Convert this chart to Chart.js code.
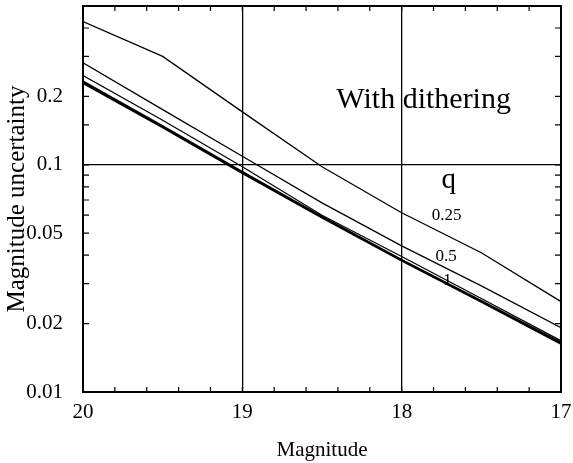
<!DOCTYPE html>
<html>
<head>
<meta charset="utf-8">
<script src="https://cdn.jsdelivr.net/npm/chart.js@4.4.0/dist/chart.umd.min.js"></script>
<style>
  html, body { margin: 0; padding: 0; background: #fff; }
  #wrap { width: 573px; height: 463px; }
</style>
</head>
<body>
<div id="wrap"><canvas id="myChart"></canvas></div>
<script>
// magnitudes along x (axis runs 20 -> 17)
var mags = [20, 19.5, 19, 18.5, 18, 17.5, 17];

// magnitude uncertainty for each q curve
var errQ025 = [0.427, 0.300, 0.171, 0.098, 0.0615, 0.041, 0.025];
var errQ05  = [0.281, 0.175, 0.109, 0.068, 0.044, 0.0293, 0.0192];
var errQ1   = [0.247, 0.157, 0.098, 0.060, 0.0395, 0.0258, 0.0168];
var errQ2   = [0.233, 0.148, 0.093, 0.0592, 0.0382, 0.0252, 0.0165];
var errQ4   = [0.229, 0.146, 0.092, 0.0586, 0.0379, 0.0249, 0.0163];

var xLabels = [20, 19, 18, 17];
var yLabels = [0.01, 0.02, 0.05, 0.1, 0.2];
var xGrid = [19, 18];
var yGrid = [0.1];

var serif = '"Liberation Serif", "Times New Roman", serif';

function pts(ys) {
  return mags.map(function (m, i) { return { x: m, y: ys[i] }; });
}
function near(list, v) {
  return list.some(function (l) { return Math.abs(l - v) / Math.abs(l) < 1e-6; });
}
function line(ys, w) {
  return { data: pts(ys), borderColor: '#000', borderWidth: w, pointRadius: 0, tension: 0, fill: false };
}

// annotations in data coordinates
var notes = [
  { x: 17.862, y: 0.193, text: 'With dithering', size: 30 },
  { x: 17.705, y: 0.085, text: 'q', size: 29 },
  { x: 17.718, y: 0.0596, text: '0.25', size: 17 },
  { x: 17.721, y: 0.0395, text: '0.5', size: 17 },
  { x: 17.712, y: 0.0308, text: '1', size: 17 }
];

var framePlugin = {
  id: 'frame',
  afterDraw: function (chart) {
    var ctx = chart.ctx, a = chart.chartArea;
    var xs = chart.scales.x, ys = chart.scales.y;
    ctx.save();
    ctx.strokeStyle = '#000';
    ctx.lineWidth = 1.2;
    ctx.beginPath();
    xs.ticks.forEach(function (t) {
      var px = xs.getPixelForValue(t.value);
      ctx.moveTo(px, a.bottom); ctx.lineTo(px, a.bottom - 5);
      ctx.moveTo(px, a.top); ctx.lineTo(px, a.top + 5);
    });
    ys.ticks.forEach(function (t) {
      var py = ys.getPixelForValue(t.value);
      ctx.moveTo(a.left, py); ctx.lineTo(a.left + 6, py);
      ctx.moveTo(a.right, py); ctx.lineTo(a.right - 6, py);
    });
    ctx.stroke();
    ctx.lineWidth = 2;
    ctx.strokeRect(a.left, a.top, a.right - a.left, a.bottom - a.top);

    ctx.fillStyle = '#000';
    ctx.textAlign = 'center';
    ctx.textBaseline = 'middle';
    notes.forEach(function (n) {
      ctx.font = n.size + 'px ' + serif;
      ctx.fillText(n.text, xs.getPixelForValue(n.x), ys.getPixelForValue(n.y));
    });
    ctx.restore();
  }
};

new Chart('myChart', {
  type: 'line',
  data: {
    datasets: [
      line(errQ025, 1.3),
      line(errQ05, 1.3),
      line(errQ1, 1.3),
      line(errQ2, 2),
      line(errQ4, 2)
    ]
  },
  options: {
    responsive: true,
    maintainAspectRatio: false,
    animation: false,
    layout: { padding: { top: 6, right: 12, left: 0, bottom: 0 } },
    plugins: { legend: { display: false }, tooltip: { enabled: false } },
    scales: {
      x: {
        type: 'linear',
        min: 17,
        max: 20,
        reverse: true,
        afterFit: function (s) { s.height = 71; s.paddingLeft = 0; s.paddingRight = 0; },
        border: { display: false },
        grid: {
          drawTicks: false,
          lineWidth: 1.3,
          color: function (c) { return c.tick && near(xGrid, c.tick.value) ? '#000' : 'rgba(0,0,0,0)'; }
        },
        ticks: {
          stepSize: 0.2,
          autoSkip: false,
          maxRotation: 0,
          padding: 8,
          color: '#000',
          font: { family: serif, size: 21 },
          callback: function (v) { return near(xLabels, v) ? String(Math.round(v)) : ''; }
        },
        title: {
          display: true,
          text: 'Magnitude',
          color: '#000',
          font: { family: serif, size: 21 },
          padding: { top: 0, bottom: 0 }
        }
      },
      y: {
        type: 'logarithmic',
        min: 0.01,
        max: 0.5,
        afterFit: function (s) { s.width = 83; s.paddingTop = 0; s.paddingBottom = 0; },
        border: { display: false },
        grid: {
          drawTicks: false,
          lineWidth: 1.3,
          color: function (c) { return c.tick && near(yGrid, c.tick.value) ? '#000' : 'rgba(0,0,0,0)'; }
        },
        ticks: {
          autoSkip: false,
          padding: 20,
          color: '#000',
          font: { family: serif, size: 21 },
          callback: function (v) { return near(yLabels, v) ? String(v) : ''; }
        },
        title: {
          display: true,
          text: 'Magnitude uncertainty',
          color: '#000',
          font: { family: serif, size: 25 },
          padding: { top: 2, bottom: 0 }
        }
      }
    }
  },
  plugins: [framePlugin]
});
</script>
</body>
</html>
